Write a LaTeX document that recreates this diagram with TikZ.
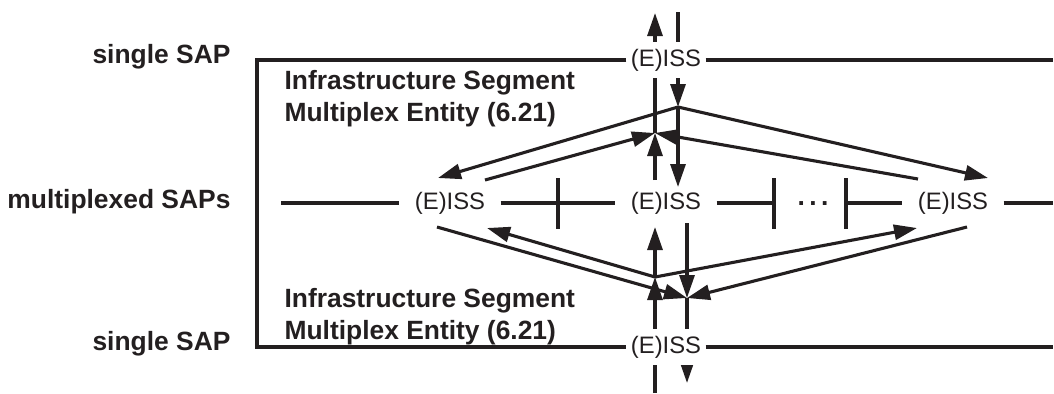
\documentclass[tikz,border=0pt]{standalone}
\usepackage{fontspec}
\setmainfont{Liberation Sans}
\usetikzlibrary{arrows.meta}
\definecolor{ink}{RGB}{35,31,32}

\begin{document}
\begin{tikzpicture}[x=0.5pt,y=-0.5pt,line width=1.55pt,color=ink,
		flow/.style={-{Triangle[length=11.5pt,width=7.5pt]}},
		sap/.style={font=\fontsize{13.2}{15.8}\selectfont\bfseries,inner sep=0pt},
		iss/.style={font=\fontsize{11.9}{14}\selectfont,inner xsep=7pt,inner ysep=3.5pt},
		rail/.style={iss,fill=white,inner xsep=1.5pt}]
		\useasboundingbox (0,0) rectangle (1054,393);
		% where the flows meet
		\coordinate (p1) at (678,107);
		\coordinate (p2) at (655,133);
		\coordinate (q1) at (655,277);
		\coordinate (q2) at (687,298);
		\coordinate (topup) at (655,13);
		\coordinate (topdown) at (678,12);
		\coordinate (botup) at (655,393);
		\coordinate (botdown) at (687,383);
		\draw[flow](p2)--(topup);
		\draw[flow](topdown)--(p1);
		\draw[flow](botup)--(q1);
		\draw[flow](q2)--(botdown);
		% single SAPs
		\node[rail](topiss)at(666,60){(E)ISS};
		\node[rail](botiss)at(666,347){(E)ISS};
		\coordinate (nw) at (257,60);
		\coordinate (sw) at (257,347);
		\coordinate (ne) at (1053,60);
		\coordinate (se) at (1053,347);
		\draw(topiss)--(nw)--(sw)--(botiss);
		\draw(topiss)--(ne);
		\draw(botiss)--(se);
		% multiplexed SAPs
		\node[iss](liss)at(450,203){(E)ISS};
		\node[iss](miss)at(666,203){(E)ISS};
		\node[iss](riss)at(953,203){(E)ISS};
		\node[font=\fontsize{13.2}{15.8}\selectfont\bfseries,inner sep=0pt](dots)at(813,204){.\,.\,.};
		\coordinate (wl) at (281,203);
		\coordinate (er) at (1053,203);
		\coordinate (t1) at (558,203);
		\coordinate (t2) at (774,203);
		\coordinate (t3) at (846,203);
		\draw(wl)--(liss) (liss)--(miss) (miss)--(t2) (t3)--(riss) (riss)--(er);
		\foreach \t in {t1,t2,t3}
			\draw(\t)++(0,-25)--++(0,51);
		% ends at the multiplexed SAPs
		\coordinate (m-in) at (678,187);
		\coordinate (m-out) at (655,180);
		\coordinate (m-sout) at (655,227);
		\coordinate (m-sin) at (687,223);
		\coordinate (l-nw) at (438,178);
		\coordinate (l-ne) at (485,180);
		\coordinate (l-sw) at (437,227);
		\coordinate (l-se) at (487,228);
		\coordinate (r-nw) at (918,179);
		\coordinate (r-ne) at (988,178);
		\coordinate (r-sw) at (917,228);
		\coordinate (r-se) at (967,227);
		\draw[flow](p1)--(m-in);
		\draw[flow](p1)--(l-nw);
		\draw[flow](p1)--(r-ne);
		\draw[flow](m-out)--(p2);
		\draw[flow](l-ne)--(p2);
		\draw[flow](r-nw)--(p2);
		\draw[flow](q1)--(m-sout);
		\draw[flow](q1)--(l-se);
		\draw[flow](q1)--(r-sw);
		\draw[flow](m-sin)--(q2);
		\draw[flow](l-sw)--(q2);
		\draw[flow](r-se)--(q2);
		% labels
		\node[sap,anchor=base east](topsap)at(232,63){single SAP};
		\node[sap,anchor=base east](muxsap)at(232,208){multiplexed SAPs};
		\node[sap,anchor=base east](botsap)at(232,350){single SAP};
		\node[sap,anchor=north west,align=left](topisme)at(283,69){Infrastructure Segment\\Multiplex Entity (6.21)};
		\node[sap,anchor=north west,align=left](botisme)at(283,287){Infrastructure Segment\\Multiplex Entity (6.21)};
	\end{tikzpicture}
\end{document}
